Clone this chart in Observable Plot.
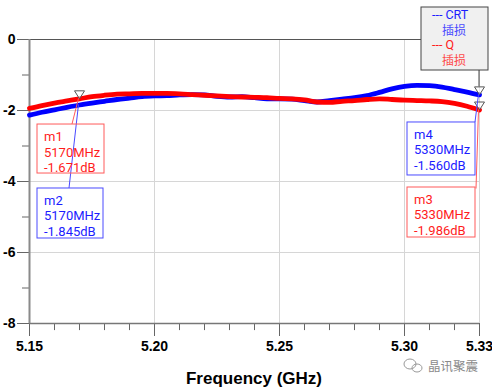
<!DOCTYPE html>
<html><head><meta charset="utf-8">
<script src="https://cdn.jsdelivr.net/npm/d3@7"></script>
<script src="https://cdn.jsdelivr.net/npm/@observablehq/plot@0.6"></script>
<style>
html,body{margin:0;padding:0;background:#fff;overflow:hidden}
#chart svg{display:block}
g[aria-label^="x-axis"] text, g[aria-label^="y-axis"] text{font-weight:bold;fill:#000;font-size:14px;font-family:"Liberation Sans",Arial,sans-serif}
</style></head><body><div id="chart"></div>
<script>
// ---- data ----
const freqs = [5.150,5.155,5.160,5.165,5.170,5.175,5.180,5.185,5.190,5.195,5.200,5.205,5.210,5.215,5.220,5.225,5.230,5.235,5.240,5.245,5.250,5.255,5.260,5.265,5.270,5.275,5.280,5.285,5.290,5.295,5.300,5.305,5.310,5.315,5.320,5.325,5.330];
const crtLoss = [-2.13,-2.05,-1.98,-1.91,-1.845,-1.79,-1.74,-1.69,-1.65,-1.61,-1.59,-1.58,-1.56,-1.55,-1.56,-1.60,-1.62,-1.61,-1.64,-1.67,-1.67,-1.68,-1.72,-1.76,-1.72,-1.68,-1.64,-1.58,-1.49,-1.39,-1.32,-1.29,-1.30,-1.34,-1.41,-1.48,-1.56];
const qLoss = [-1.94,-1.86,-1.79,-1.73,-1.671,-1.61,-1.57,-1.54,-1.53,-1.52,-1.52,-1.52,-1.53,-1.55,-1.57,-1.59,-1.61,-1.62,-1.63,-1.64,-1.66,-1.67,-1.70,-1.76,-1.77,-1.74,-1.72,-1.69,-1.67,-1.69,-1.71,-1.72,-1.73,-1.75,-1.80,-1.88,-1.986];
const xTicks = [5.15,5.20,5.25,5.30,5.33];
const xMinor = [5.16,5.17,5.18,5.19,5.21,5.22,5.23,5.24,5.26,5.27,5.28,5.29,5.31,5.32];
const xGrid = [5.20,5.25,5.30,5.33];
const yTicks = [0,-2,-4,-6,-8];
const yMinor = [-1,-3,-5,-7];
const yGrid = [-2,-4,-6];
const seriesNames = ["CRT","Q"];
const seriesSub = ["插损","插损"];
const markerNames = ["m1","m2","m3","m4"];
const markerSeries = ["Q","CRT","Q","CRT"];
const markerFreqMHz = [5170,5170,5330,5330];
const markerValues = [-1.671,-1.845,-1.986,-1.560];
const markerShown = [true,false,true,true];
const xTitle = "Frequency (GHz)";
const watermark = "晶讯聚震";

// ---- styles / layout ----
const BLUE = "#0000ff", RED = "#ff0000";
const textColorOf = {CRT: "#1c1cff", Q: "#ff1c1c"};
const boxColorOf = {CRT: "#4a4aff", Q: "#ff5a5a"};
// box placement relative to marker (px): [dx, dy, w, h, leaderDx, leaderDy]
const boxLayout = {
  m1: [-42, 25.7, 67, 49, -7, 25.7],
  m2: [-42, 83.5, 66, 50, -10, 83.5],
  m3: [-72, 77.5, 68, 50, -3, 79],
  m4: [-72, 27.6, 68, 53, -4, 27.6]
};

const rows = freqs.map((f, i) => ({f, crt: crtLoss[i], q: qLoss[i]}));
const markers = markerNames.map((n, i) => ({name: n, series: markerSeries[i], f: markerFreqMHz[i] / 1000, v: markerValues[i], mhz: markerFreqMHz[i], shown: markerShown[i]}));

const downTri = {draw(ctx, size) { const s = Math.sqrt(size / Math.PI); const h = s * 1.6; ctx.moveTo(-s, -h); ctx.lineTo(s, -h); ctx.lineTo(0, 0); ctx.closePath(); }};

const W = 492, H = 388;
const plot = Plot.plot({
  width: W, height: H,
  marginLeft: 29, marginRight: 13, marginTop: 39, marginBottom: 65,
  style: {background: "#fff", color: "#666", fontFamily: "Liberation Sans, Arial, sans-serif", fontSize: "14px"},
  x: {domain: [5.15, 5.33], ticks: xTicks, tickFormat: d => d.toFixed(2), tickSize: 13, tickPadding: 5, label: null},
  y: {domain: [-8, 0], ticks: yTicks, tickFormat: d => String(d), tickSize: 12, tickPadding: 2, label: null},
  marks: [
    Plot.ruleY(yGrid, {stroke: "#d6d6d6", strokeWidth: 1}),
    Plot.ruleX(xGrid, {stroke: "#d6d6d6", strokeWidth: 1}),
    Plot.ruleY([0], {x1: 5.15, x2: 5.33, stroke: "#555", strokeWidth: 1}),
    Plot.ruleX(xMinor, {y1: -8, y2: -8.2, stroke: "#666", strokeWidth: 1}),
    Plot.ruleY(yMinor, {x1: 5.15, x2: 5.1472, stroke: "#666", strokeWidth: 1}),
    Plot.ruleY([-8], {x1: 5.15, x2: 5.33, stroke: "#777", strokeWidth: 1.5}),
    Plot.ruleX([5.15], {y1: -8, y2: 0, stroke: "#8a8a8a", strokeWidth: 2}),
    Plot.line(rows, {x: "f", y: "crt", stroke: BLUE, strokeWidth: 4.8, curve: "monotone-x"}),
    Plot.line(rows, {x: "f", y: "q", stroke: RED, strokeWidth: 4.8, curve: "monotone-x"}),
    Plot.dot(markers.filter(d => d.shown), {x: "f", y: "v", symbol: downTri, r: 5, stroke: "#555", strokeWidth: 1, fill: "#fff", fillOpacity: 0.5})
  ]
});
document.getElementById("chart").appendChild(plot);

const sx = plot.scale("x"), sy = plot.scale("y");
const svg = d3.select(plot);
const ann = svg.append("g").attr("text-anchor", "start");
const annFont = "Roboto, 'Noto Sans', sans-serif";

// leader lines
for (const m of markers) {
  const [bx, by, bw, bh, lx, ly] = boxLayout[m.name];
  const px = sx.apply(m.f), py = sy.apply(m.v);
  ann.append("line").attr("x1", px - 0.5).attr("y1", py).attr("x2", px + lx).attr("y2", py + ly)
    .attr("stroke", boxColorOf[m.series]).attr("stroke-width", 1);
}
// boxes
for (const m of markers) {
  const [bx, by, bw, bh] = boxLayout[m.name];
  const px = sx.apply(m.f), py = sy.apply(m.v);
  const x0 = px + bx, y0 = py + by;
  ann.append("rect").attr("x", x0).attr("y", y0).attr("width", bw).attr("height", bh)
    .attr("fill", "none").attr("stroke", boxColorOf[m.series]).attr("stroke-width", 1);
  const lines = [m.name, m.mhz + "MHz", m.v.toFixed(3) + "dB"];
  lines.forEach((t, i) => {
    ann.append("text").attr("x", x0 + 7).attr("y", y0 + 12.5 + i * 15.3).attr("dy", "0.36em")
      .attr("text-anchor", "start")
      .attr("fill", textColorOf[m.series]).attr("font-family", annFont).attr("font-size", 13).text(t);
  });
}
// legend
const lg = svg.append("g");
const frameR = W - 13;
lg.append("line").attr("x1", frameR).attr("x2", frameR).attr("y1", 70).attr("y2", sy.apply(markerValues[3]) - 8)
  .attr("stroke", "#444").attr("stroke-width", 1);
lg.append("rect").attr("x", frameR - 58).attr("y", 7).attr("width", 67).attr("height", 63)
  .attr("fill", "#f0f0f0").attr("stroke", "#444").attr("stroke-width", 1);
seriesNames.forEach((s, i) => {
  lg.append("text").attr("x", frameR - 47).attr("y", 14.5 + i * 30).attr("dy", "0.36em").attr("text-anchor", "start")
    .attr("fill", textColorOf[s]).attr("font-family", annFont).attr("font-size", 12.5).text("--- " + s);
  lg.append("text").attr("x", frameR - 25).attr("y", 30.5 + i * 30).attr("dy", "0.36em").attr("text-anchor", "middle")
    .attr("fill", s === "CRT" ? "#4a4aff" : "#ff4a4a").attr("font-family", "'Noto Sans CJK SC', sans-serif").attr("font-size", 12).text(seriesSub[i]);
});
// x title
svg.append("text").attr("x", (29 + frameR) / 2).attr("y", 378).attr("dy", "0.36em").attr("text-anchor", "middle")
  .attr("font-family", "'Liberation Sans', Arial, sans-serif").attr("font-weight", "bold").attr("font-size", 17).attr("fill", "#000").text(xTitle);
// watermark
const wm = svg.append("g").attr("fill", "none").attr("stroke", "#999").attr("stroke-width", 1);
wm.append("ellipse").attr("cx", 410).attr("cy", 364).attr("rx", 6).attr("ry", 5);
wm.append("ellipse").attr("cx", 417).attr("cy", 368).attr("rx", 5).attr("ry", 4);
svg.append("text").attr("x", 428).attr("y", 366).attr("dy", "0.36em").attr("text-anchor", "start").attr("fill", "#8a8a8a")
  .attr("font-family", "'Noto Sans CJK SC', sans-serif").attr("font-size", 12.5).text(watermark);
</script></body></html>
